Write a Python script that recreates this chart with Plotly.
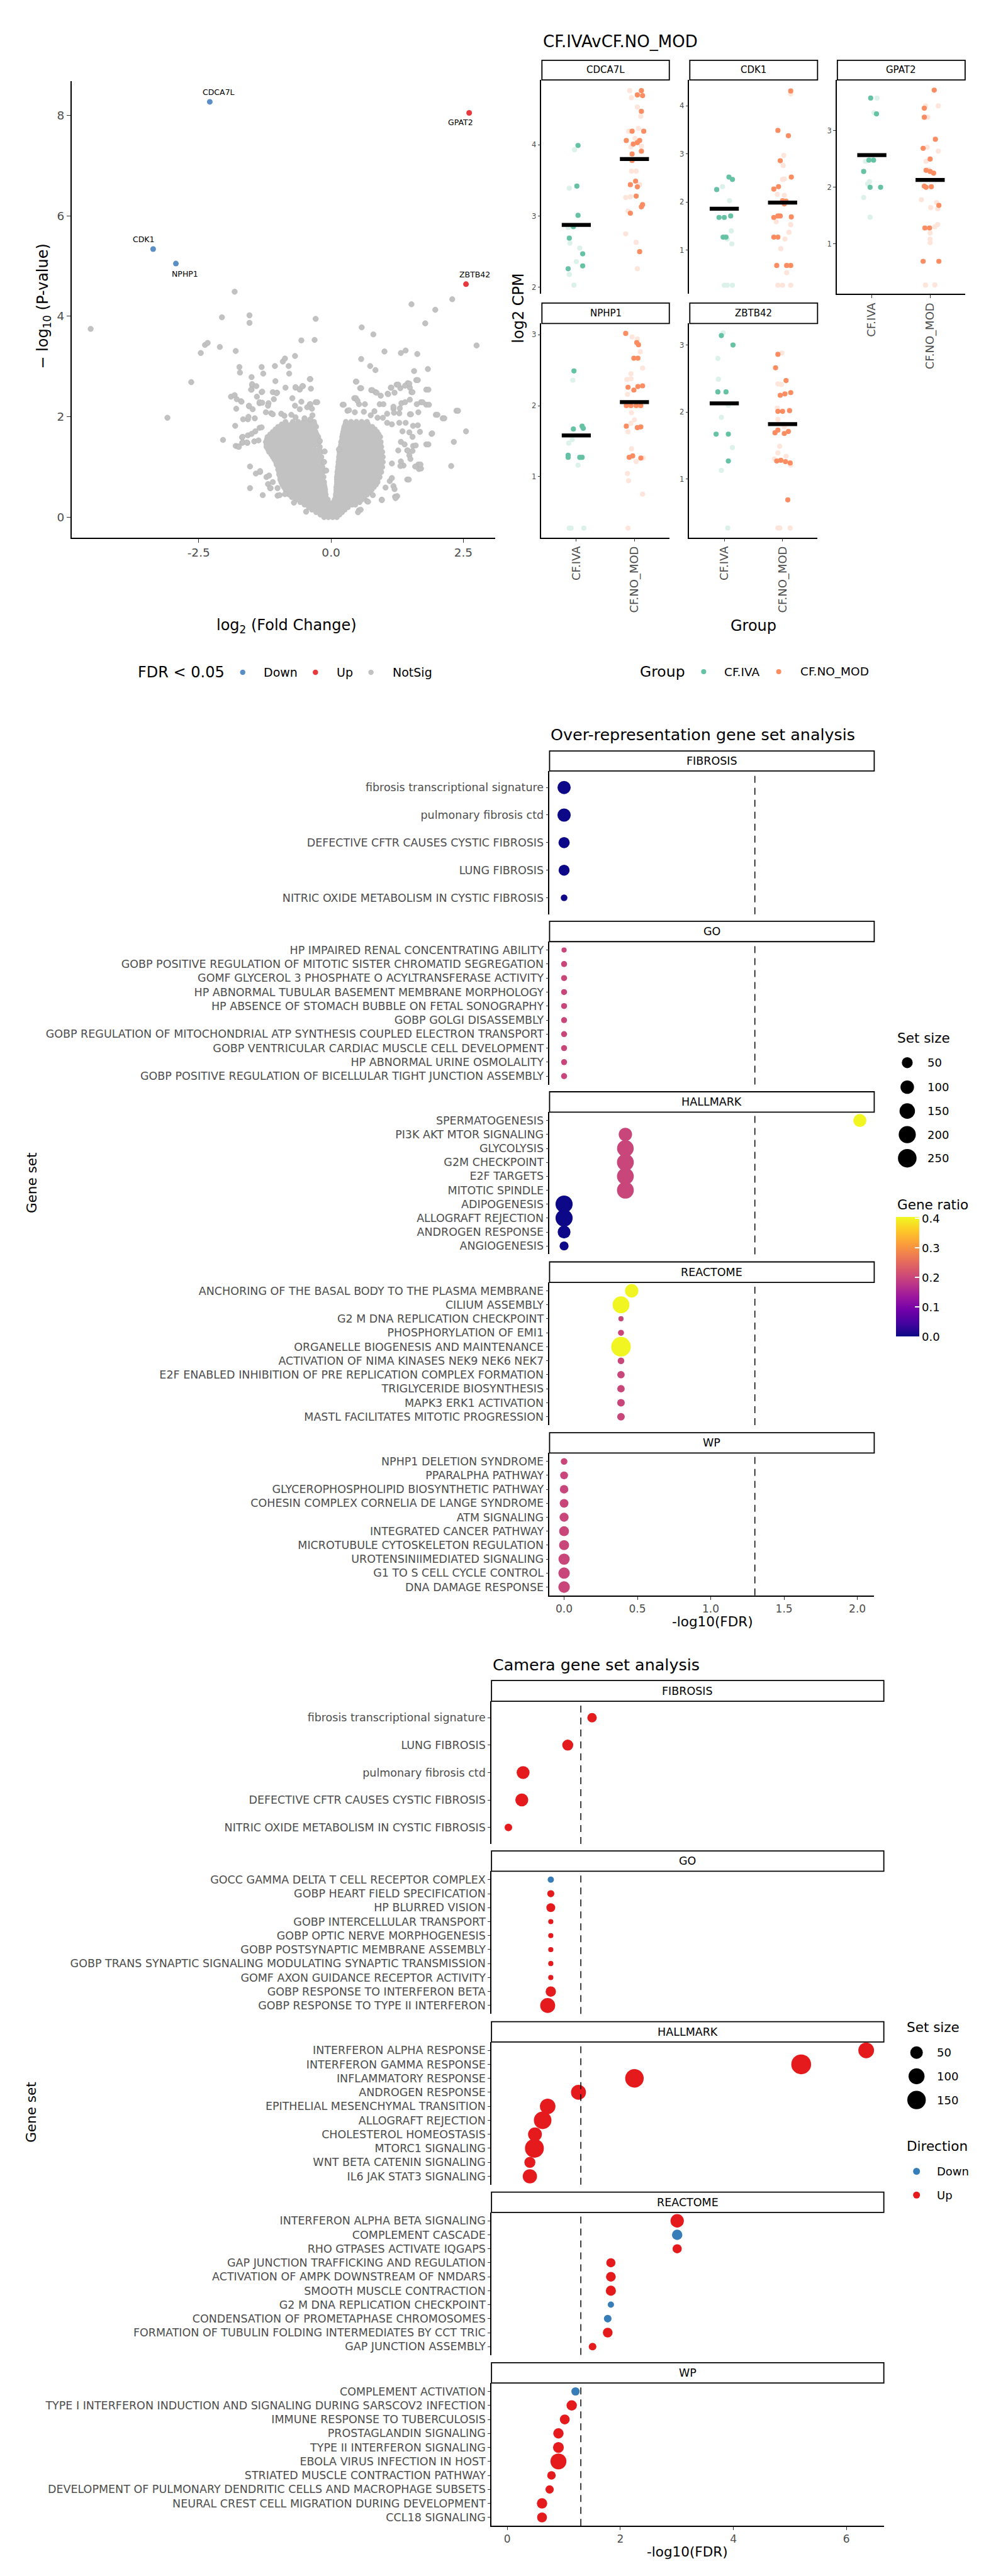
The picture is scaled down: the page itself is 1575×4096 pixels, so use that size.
import numpy as np
import plotly.graph_objects as go

# ============================ DATA ============================
# ---- Volcano: significant genes ----
sig_genes = ["CDCA7L", "GPAT2", "CDK1", "NPHP1", "ZBTB42"]
sig_logfc = [-2.29, 2.61, -3.36, -2.93, 2.55]
sig_logp = [8.27, 8.05, 5.34, 5.05, 4.64]
sig_dir = ["Down", "Up", "Down", "Down", "Up"]

# ---- Volcano: dense non-significant core, read row by row ----
ns_core_logp = [0.0, 0.1, 0.2, 0.3, 0.4, 0.5, 0.6, 0.7, 0.8, 0.9,
                1.0, 1.1, 1.2, 1.3, 1.4, 1.5, 1.6, 1.7, 1.8, 1.9]
ns_core_logfc = [
    [-0.13, -0.05, 0.03, 0.11],
    [-0.28, -0.19, -0.10, -0.02, 0.06, 0.14, 0.21],
    [-0.42, -0.33, -0.24, -0.15, -0.06, 0.02, 0.10, 0.18, 0.26, 0.32],
    [-0.58, -0.49, -0.40, -0.31, -0.22, -0.13, -0.05, 0.05, 0.13, 0.22, 0.31, 0.40, 0.48, 0.54],
    [-0.74, -0.65, -0.56, -0.47, -0.38, -0.29, -0.20, -0.10, 0.09, 0.18, 0.27, 0.36, 0.45, 0.54, 0.63],
    [-0.84, -0.75, -0.66, -0.57, -0.48, -0.39, -0.30, -0.21, -0.11, 0.10, 0.19, 0.28, 0.37, 0.46, 0.55, 0.64, 0.73],
    [-0.89, -0.80, -0.71, -0.62, -0.53, -0.44, -0.35, -0.26, -0.18, -0.12, 0.10, 0.18, 0.27, 0.36, 0.45, 0.54, 0.63, 0.72, 0.81],
    [-0.94, -0.85, -0.76, -0.67, -0.58, -0.49, -0.40, -0.31, -0.22, -0.13, 0.11, 0.19, 0.28, 0.37, 0.46, 0.55, 0.64, 0.73, 0.82, 0.88],
    [-0.96, -0.87, -0.78, -0.69, -0.60, -0.51, -0.42, -0.33, -0.24, -0.14, 0.11, 0.20, 0.29, 0.38, 0.47, 0.56, 0.65, 0.74, 0.83, 0.92],
    [-0.98, -0.89, -0.80, -0.71, -0.62, -0.53, -0.44, -0.35, -0.26, -0.15, 0.12, 0.21, 0.30, 0.39, 0.48, 0.57, 0.66, 0.75, 0.84, 0.95],
    [-1.00, -0.91, -0.82, -0.73, -0.64, -0.55, -0.46, -0.37, -0.28, -0.16, 0.13, 0.22, 0.31, 0.40, 0.49, 0.58, 0.67, 0.76, 0.85, 0.97],
    [-1.04, -0.95, -0.86, -0.77, -0.68, -0.59, -0.50, -0.41, -0.32, -0.24, -0.17, 0.14, 0.23, 0.32, 0.41, 0.50, 0.59, 0.68, 0.77, 0.86, 0.98],
    [-1.10, -1.01, -0.92, -0.83, -0.74, -0.65, -0.56, -0.47, -0.38, -0.29, -0.18, 0.15, 0.24, 0.33, 0.42, 0.51, 0.60, 0.69, 0.78, 0.87, 0.98],
    [-1.17, -1.08, -0.99, -0.90, -0.81, -0.72, -0.63, -0.54, -0.45, -0.36, -0.27, -0.19, 0.16, 0.25, 0.34, 0.43, 0.52, 0.61, 0.70, 0.79, 0.88, 0.97],
    [-1.22, -1.13, -1.04, -0.95, -0.86, -0.77, -0.68, -0.59, -0.50, -0.41, -0.32, -0.21, 0.18, 0.27, 0.36, 0.45, 0.54, 0.63, 0.72, 0.81, 0.90, 0.95],
    [-1.23, -1.14, -1.05, -0.96, -0.87, -0.78, -0.69, -0.60, -0.51, -0.42, -0.33, -0.22, 0.19, 0.28, 0.37, 0.46, 0.55, 0.64, 0.73, 0.82, 0.94],
    [-1.20, -1.11, -1.02, -0.93, -0.84, -0.75, -0.66, -0.57, -0.48, -0.39, -0.30, -0.24, 0.21, 0.30, 0.39, 0.48, 0.57, 0.66, 0.75, 0.84, 0.93],
    [-1.10, -1.01, -0.92, -0.83, -0.74, -0.65, -0.56, -0.47, -0.38, -0.29, 0.23, 0.32, 0.41, 0.50, 0.59, 0.68, 0.77, 0.87],
    [-1.00, -0.91, -0.82, -0.73, -0.64, -0.55, -0.46, -0.37, -0.28, 0.25, 0.34, 0.43, 0.52, 0.61, 0.70, 0.78],
    [-0.86, -0.72, -0.62, -0.52, -0.42, -0.32, 0.28, 0.38, 0.48, 0.58, 0.68],
]
# offset rows read between the rows above (fills the dense core)
ns_core2_logp = [0.05, 0.15, 0.25, 0.35, 0.45, 0.55, 0.65, 0.75, 0.85, 0.95,
                 1.05, 1.15, 1.25, 1.35, 1.45, 1.55, 1.65, 1.75, 1.85]
ns_core2_logfc = [
    [-0.20, -0.10, -0.01, 0.07, 0.16],
    [-0.36, -0.27, -0.18, -0.09, 0.00, 0.09, 0.17, 0.26],
    [-0.50, -0.41, -0.32, -0.23, -0.14, -0.05, 0.05, 0.14, 0.23, 0.32, 0.40, 0.46],
    [-0.66, -0.57, -0.48, -0.39, -0.30, -0.21, -0.12, -0.06, 0.07, 0.14, 0.23, 0.32, 0.41, 0.50, 0.58],
    [-0.79, -0.70, -0.61, -0.52, -0.43, -0.34, -0.25, -0.16, -0.10, 0.09, 0.14, 0.23, 0.32, 0.41, 0.50, 0.59, 0.68],
    [-0.86, -0.79, -0.70, -0.61, -0.52, -0.43, -0.34, -0.25, -0.16, -0.11, 0.10, 0.14, 0.23, 0.32, 0.41, 0.50, 0.59, 0.68, 0.77],
    [-0.92, -0.84, -0.75, -0.66, -0.57, -0.48, -0.39, -0.30, -0.21, -0.13, 0.11, 0.15, 0.24, 0.33, 0.42, 0.51, 0.60, 0.69, 0.78, 0.85],
    [-0.96, -0.89, -0.80, -0.71, -0.62, -0.53, -0.44, -0.35, -0.26, -0.17, 0.11, 0.16, 0.25, 0.34, 0.43, 0.52, 0.61, 0.70, 0.79, 0.88],
    [-0.98, -0.91, -0.82, -0.73, -0.64, -0.55, -0.46, -0.37, -0.28, -0.19, 0.12, 0.17, 0.26, 0.35, 0.44, 0.53, 0.62, 0.71, 0.80, 0.90],
    [-1.00, -0.93, -0.84, -0.75, -0.66, -0.57, -0.48, -0.39, -0.30, -0.21, 0.13, 0.18, 0.27, 0.36, 0.45, 0.54, 0.63, 0.72, 0.81, 0.92],
    [-1.03, -0.96, -0.87, -0.78, -0.69, -0.60, -0.51, -0.42, -0.33, -0.22, 0.14, 0.19, 0.28, 0.37, 0.46, 0.55, 0.64, 0.73, 0.82, 0.93],
    [-1.07, -0.99, -0.90, -0.81, -0.72, -0.63, -0.54, -0.45, -0.36, -0.27, -0.19, 0.15, 0.20, 0.29, 0.38, 0.47, 0.56, 0.65, 0.74, 0.83, 0.94],
    [-1.13, -1.05, -0.96, -0.87, -0.78, -0.69, -0.60, -0.51, -0.42, -0.33, -0.24, 0.16, 0.21, 0.30, 0.39, 0.48, 0.57, 0.66, 0.75, 0.84, 0.93],
    [-1.19, -1.12, -1.03, -0.94, -0.85, -0.76, -0.67, -0.58, -0.49, -0.40, -0.31, -0.22, 0.18, 0.23, 0.32, 0.41, 0.50, 0.59, 0.68, 0.77, 0.86, 0.93],
    [-1.22, -1.17, -1.08, -0.99, -0.90, -0.81, -0.72, -0.63, -0.54, -0.45, -0.36, -0.27, 0.19, 0.24, 0.33, 0.42, 0.51, 0.60, 0.69, 0.78, 0.87, 0.93],
    [-1.21, -1.15, -1.06, -0.97, -0.88, -0.79, -0.70, -0.61, -0.52, -0.43, -0.34, -0.27, 0.21, 0.26, 0.35, 0.44, 0.53, 0.62, 0.71, 0.80, 0.90],
    [-1.15, -1.06, -0.97, -0.88, -0.79, -0.70, -0.61, -0.52, -0.43, -0.34, -0.27, 0.22, 0.28, 0.37, 0.46, 0.55, 0.64, 0.73, 0.82, 0.90],
    [-1.05, -0.96, -0.87, -0.78, -0.69, -0.60, -0.51, -0.42, -0.33, 0.24, 0.30, 0.39, 0.48, 0.57, 0.66, 0.75, 0.83],
    [-0.93, -0.84, -0.75, -0.66, -0.57, -0.48, -0.39, -0.31, 0.27, 0.33, 0.42, 0.51, 0.60, 0.70],
]

# ---- Volcano: scattered non-significant genes (logFC, -log10 p) ----
ns_scatter = [
    (-4.54, 3.75), (-3.09, 1.98), (-2.64, 2.69), (-2.46, 3.27), (-2.38, 3.43), (-2.33, 3.47), (-2.10, 3.39),
    (-2.06, 3.98), (-2.04, 1.54), (-1.82, 4.49), (-1.80, 3.31), (-1.73, 2.99), (-1.72, 2.88), (-1.89, 2.40),
    (-1.82, 2.43), (-1.78, 2.35), (-1.70, 2.31), (-1.79, 2.16), (-1.81, 1.82), (-1.80, 1.42), (-1.76, 1.41),
    (-1.68, 1.48), (-1.68, 1.59), (-1.54, 4.02), (-1.54, 3.87), (-1.50, 2.79), (-1.49, 2.63), (-1.50, 2.54),
    (-1.55, 2.21), (-1.57, 1.95), (-1.53, 1.01), (-1.53, 0.58), (-1.29, 0.44), (-1.31, 2.99), (-1.28, 2.86),
    (-1.06, 3.01), (-1.05, 2.71), (-0.91, 3.10), (-0.87, 3.16), (-0.80, 3.01), (-0.79, 2.86), (-0.68, 3.21),
    (-0.56, 3.52), (-0.31, 3.53), (-0.29, 3.95), (-0.39, 2.75), (-0.38, 2.56), (0.58, 3.78), (0.80, 3.64),
    (0.57, 3.15), (0.74, 3.01), (0.84, 2.93), (0.47, 2.70), (0.55, 2.57), (1.01, 3.30), (1.32, 3.27),
    (1.41, 3.32), (1.63, 3.25), (1.52, 4.24), (1.78, 3.86), (1.97, 4.13), (2.29, 4.34), (2.75, 3.42),
    (1.83, 2.95), (1.57, 2.91), (1.61, 2.73), (1.80, 2.54), (1.80, 2.24), (1.70, 2.29), (1.98, 2.04),
    (2.11, 1.97), (2.37, 2.12), (1.90, 1.66), (2.55, 1.71), (2.32, 1.50), (1.80, 1.45), (2.27, 1.02),
    (1.65, 1.05), (1.66, 0.96), (1.44, 0.75), (1.55, 1.42), (1.24, 2.64), (1.31, 2.57), (1.45, 2.67),
    (1.49, 2.58), (1.52, 2.49), (1.07, 2.46), (1.13, 2.58), (1.20, 2.48), (0.94, 2.42), (0.76, 2.53),
    (0.84, 2.49), (0.44, 2.37), (0.53, 2.25), (0.22, 2.24), (0.31, 2.12), (0.62, 2.10), (0.75, 2.03),
    (1.49, 2.05), (1.65, 2.09), (1.18, 2.16), (1.06, 2.06), (-1.02, 2.48), (-1.31, 2.49), (-1.35, 2.27),
    (-1.18, 2.27), (-1.08, 2.35), (-0.86, 2.58), (-0.67, 2.58), (-0.59, 2.54), (-0.53, 2.61), (-0.40, 2.25),
    (-0.29, 2.29), (-1.43, 1.71), (-1.58, 1.48), (-1.42, 0.87), (-1.34, 0.90), (-1.19, 0.66), (-1.15, 0.58),
    (-1.01, 0.43), (-0.70, 0.29), (-0.47, 0.11), (0.53, 0.14), (0.68, 0.32), (0.96, 0.35), (1.21, 0.41),
    (1.18, 0.62), (1.37, 1.03), (1.15, 1.07), (1.27, 1.33), (1.44, 1.33),
    (-1.49, 2.65), (-1.41, 2.61), (-1.51, 2.54), (-1.30, 2.50), (-1.10, 2.49), (-1.03, 2.47), (-1.40, 2.40),
    (-1.35, 2.29), (-1.30, 2.28), (-1.69, 2.30), (-1.55, 2.22), (-1.48, 2.15), (-1.19, 2.22), (-1.23, 2.09),
    (-1.13, 2.07), (-1.10, 2.05), (-0.94, 2.06), (-0.73, 2.37), (-0.67, 2.59), (-0.59, 2.55), (-0.54, 2.61),
    (-0.40, 2.75), (-0.56, 2.30), (-0.68, 2.22), (-0.59, 2.15), (-0.39, 2.25), (-0.36, 2.16),
    (-0.26, 2.29), (-0.45, 2.19), (-0.88, 2.02), (-0.75, 2.04), (-0.67, 1.99), (-0.50, 1.97), (-0.35, 2.03),
    (-0.39, 1.95), (-1.66, 1.95), (-1.56, 2.00), (-1.44, 1.97), (-1.35, 1.78), (-1.31, 1.79), (-1.67, 1.60),
    (-1.57, 1.63), (-1.50, 1.66), (-1.66, 1.49), (-1.59, 1.49), (-1.74, 1.40), (-1.45, 1.51), (-1.37, 1.53),
    (-1.34, 0.92), (-1.22, 0.80), (-1.17, 0.83), (-1.10, 0.70), (-1.14, 0.58), (-1.01, 0.58), (-0.97, 0.44),
    (-0.87, 0.46), (-0.13, 1.10), (-0.09, 0.93), (-0.21, 1.52), (-0.12, 1.31), (0.15, 1.35), (0.24, 2.24),
    (0.48, 2.70), (0.57, 2.57), (0.47, 2.37), (0.50, 2.32), (0.64, 2.25), (0.34, 2.13), (0.45, 2.09),
    (0.82, 2.11), (0.78, 2.53), (0.86, 2.48), (1.08, 2.45), (1.14, 2.58), (1.27, 2.64), (1.40, 2.62),
    (1.48, 2.66), (1.54, 2.49), (1.64, 2.73), (1.84, 2.54), (0.92, 2.25), (0.99, 2.25), (1.18, 2.20),
    (1.30, 2.17), (1.33, 2.27), (1.40, 2.29), (1.49, 2.34), (1.62, 2.25), (1.73, 2.29), (1.85, 2.24),
    (1.19, 2.08), (1.29, 2.07), (1.51, 2.05), (2.01, 2.04), (2.14, 1.97), (2.40, 2.12), (0.88, 1.98),
    (0.98, 1.98), (1.06, 1.88), (1.15, 1.85), (1.29, 1.88), (1.41, 1.88), (1.55, 1.82), (1.64, 1.83),
    (1.68, 1.70), (1.91, 1.67), (1.35, 1.71), (1.48, 1.69), (1.54, 1.60), (1.84, 1.45), (1.60, 1.43),
    (1.45, 1.33), (1.54, 1.32), (1.32, 1.50), (1.39, 1.45), (1.48, 1.23), (1.50, 1.16), (1.59, 1.01),
    (1.70, 0.97), (1.69, 1.05), (1.32, 1.11), (1.31, 1.02), (1.47, 0.75), (1.11, 0.72), (1.15, 0.78),
    (1.03, 0.59), (1.20, 0.56), (1.25, 0.42), (1.22, 0.38), (0.96, 0.34), (0.79, 0.44), (0.70, 0.31),
    (0.56, 0.15), (0.51, 0.10),
]
ns_logfc = [p[0] for p in ns_scatter]
ns_logp = [p[1] for p in ns_scatter]

# ---- Strip plots: (jitter offset, log2 CPM) ----
strip_groups = ["CF.IVA", "CF.NO_MOD"]
strip_genes = ["CDCA7L", "CDK1", "GPAT2", "NPHP1", "ZBTB42"]
strip_mean_iva = [2.875, 1.86, 2.57, 1.58, 2.13]
strip_mean_nomod = [3.80, 1.99, 2.13, 2.05, 1.82]

cdca7l_iva_solid = [(0.03, 3.99), (0.01, 3.42), (0.03, 3.01), (-0.05, 2.85), (-0.12, 2.69), (0.11, 2.47), (0.11, 2.30), (-0.14, 2.26)]
cdca7l_iva_faded = [(-0.03, 3.93), (-0.12, 3.39), (-0.14, 2.84), (-0.11, 2.62), (0.06, 2.55), (0.00, 2.36), (-0.12, 2.18), (-0.04, 2.03)]
cdca7l_nomod_solid = [(0.12, 4.76), (0.05, 4.70), (0.14, 4.69), (0.12, 4.47), (-0.04, 4.19), (0.16, 4.19), (-0.14, 4.06),
                      (-0.02, 4.01), (0.05, 4.03), (0.09, 4.06), (-0.04, 3.87), (0.12, 3.91), (-0.04, 3.78), (0.02, 3.49),
                      (-0.07, 3.44), (0.05, 3.41), (0.03, 3.28), (0.14, 3.16), (0.12, 3.13), (-0.07, 3.04), (0.09, 2.50)]
cdca7l_nomod_faded = [(-0.08, 4.76), (-0.05, 4.66), (0.05, 4.53), (0.11, 4.40), (-0.10, 4.19), (0.07, 4.23), (0.01, 4.09),
                      (0.12, 3.98), (-0.06, 3.97), (0.03, 3.63), (-0.05, 3.63), (0.09, 3.44), (-0.15, 3.26), (-0.07, 3.27),
                      (-0.11, 3.07), (-0.15, 2.75), (0.03, 2.63), (0.05, 2.26)]

cdk1_iva_solid = [(0.08, 2.52), (0.14, 2.47), (-0.13, 2.26), (-0.09, 1.68), (0.00, 1.68), (0.11, 1.71), (-0.02, 1.27), (0.03, 1.27)]
cdk1_iva_faded = [(-0.03, 2.32), (0.09, 2.03), (0.12, 1.40), (0.05, 1.23), (0.13, 1.13), (0.00, 0.27), (0.05, 0.27), (0.14, 0.27)]
cdk1_nomod_solid = [(0.14, 4.31), (-0.08, 3.49), (0.10, 3.38), (-0.04, 2.86), (0.15, 2.52), (-0.07, 2.32), (-0.15, 2.27),
                    (0.00, 2.03), (0.03, 1.96), (0.06, 2.02), (-0.15, 1.68), (-0.08, 1.71), (-0.04, 1.71), (0.15, 1.69),
                    (-0.15, 1.27), (-0.08, 1.27), (-0.10, 0.68), (0.07, 0.68), (0.14, 0.68)]
cdk1_nomod_faded = [(0.14, 4.25), (0.02, 2.97), (0.01, 2.76), (0.00, 2.47), (0.03, 2.48), (-0.09, 2.16), (0.03, 2.14),
                    (-0.11, 1.59), (0.14, 1.53), (0.11, 1.37), (0.04, 1.23), (-0.03, 1.03), (0.07, 0.53), (-0.08, 0.27),
                    (0.00, 0.27), (0.14, 0.27)]

gpat2_iva_solid = [(-0.02, 3.58), (0.08, 3.30), (-0.14, 2.28), (-0.05, 2.48), (0.03, 2.48), (-0.03, 2.00), (0.15, 2.00)]
gpat2_iva_faded = [(0.09, 3.58), (0.04, 3.32), (-0.11, 2.46), (-0.04, 2.10), (-0.07, 2.06), (-0.14, 1.82), (-0.03, 1.47), (0.00, 2.50)]
gpat2_nomod_solid = [(0.07, 3.72), (-0.10, 3.40), (-0.10, 3.24), (0.09, 2.85), (-0.12, 2.69), (0.00, 2.50), (-0.07, 2.30),
                     (0.00, 2.28), (0.06, 2.25), (-0.10, 2.02), (-0.07, 2.00), (0.02, 2.01), (0.15, 1.68), (-0.09, 1.28),
                     (-0.01, 1.28), (-0.12, 0.69), (0.15, 0.69)]
gpat2_nomod_faded = [(-0.08, 3.44), (-0.04, 3.24), (0.14, 3.44), (-0.05, 2.71), (0.14, 2.64), (-0.07, 2.46), (-0.03, 2.31),
                     (-0.15, 1.78), (0.11, 1.73), (0.01, 1.64), (0.13, 1.62), (0.13, 1.34), (0.08, 1.30), (0.00, 1.19),
                     (0.00, 1.08), (0.00, 1.02), (-0.08, 0.27), (0.08, 0.27)]

nphp1_iva_solid = [(-0.04, 2.49), (-0.05, 1.67), (0.10, 1.71), (0.12, 1.68), (-0.14, 1.30), (-0.14, 1.27), (0.06, 1.27), (0.10, 1.27)]
nphp1_iva_faded = [(-0.06, 2.36), (-0.07, 1.52), (-0.13, 1.47), (0.07, 1.26), (0.03, 1.16), (-0.12, 0.27), (-0.09, 0.27), (0.13, 0.27)]
nphp1_nomod_solid = [(-0.15, 3.02), (0.04, 2.89), (0.07, 2.86), (-0.01, 2.67), (0.06, 2.67), (-0.11, 2.26), (-0.01, 2.22),
                     (0.06, 2.27), (0.14, 2.28), (-0.14, 2.00), (-0.06, 2.00), (0.03, 2.00), (0.11, 2.00), (-0.14, 1.71),
                     (0.05, 1.69), (0.11, 1.70), (-0.09, 1.27), (-0.03, 1.29), (0.11, 1.26)]
nphp1_nomod_faded = [(-0.04, 2.97), (0.05, 2.94), (0.10, 2.76), (0.14, 2.53), (-0.06, 2.45), (-0.13, 2.37), (-0.06, 2.38),
                     (-0.12, 2.16), (-0.05, 1.90), (0.00, 1.80), (-0.06, 1.75), (-0.11, 1.63), (-0.05, 1.39), (0.03, 1.21),
                     (0.15, 1.26), (-0.12, 1.04), (-0.10, 0.94), (0.14, 0.75), (-0.11, 0.27)]

zbtb42_iva_solid = [(-0.05, 3.14), (0.15, 3.00), (-0.11, 2.30), (0.03, 2.30), (-0.14, 1.67), (0.07, 1.67), (0.07, 1.27)]
zbtb42_iva_faded = [(-0.02, 3.18), (-0.11, 2.80), (-0.10, 2.49), (0.07, 2.10), (-0.05, 1.92), (0.14, 1.47), (-0.05, 1.13), (0.06, 0.27)]
zbtb42_nomod_solid = [(-0.08, 2.86), (-0.12, 2.66), (0.06, 2.47), (-0.04, 2.25), (0.04, 2.27), (0.14, 2.29), (-0.08, 2.01),
                      (0.00, 2.01), (0.12, 2.02), (-0.08, 1.73), (-0.13, 1.69), (0.03, 1.68), (0.10, 1.71), (-0.10, 1.27),
                      (-0.03, 1.28), (0.05, 1.26), (0.13, 1.24), (0.09, 0.69)]
zbtb42_nomod_faded = [(-0.01, 2.88), (-0.08, 2.42), (-0.02, 2.41), (-0.09, 2.06), (0.12, 2.03), (-0.08, 1.89), (0.03, 1.78),
                      (-0.05, 1.49), (-0.08, 1.39), (0.06, 1.34), (-0.14, 1.30), (0.14, 1.21), (-0.08, 0.27), (-0.05, 0.27),
                      (0.13, 0.27)]

# ---- Over-representation analysis (x = -log10 FDR) ----
ora_fibrosis_sets = ["fibrosis transcriptional signature", "pulmonary fibrosis ctd",
                     "DEFECTIVE CFTR CAUSES CYSTIC FIBROSIS", "LUNG FIBROSIS",
                     "NITRIC OXIDE METABOLISM IN CYSTIC FIBROSIS"]
ora_fibrosis_fdr = [0.0, 0.0, 0.0, 0.0, 0.0]
ora_fibrosis_ratio = [0.0, 0.0, 0.0, 0.0, 0.0]
ora_fibrosis_size = [93, 95, 55, 52, 8]

ora_go_sets = ["HP IMPAIRED RENAL CONCENTRATING ABILITY",
               "GOBP POSITIVE REGULATION OF MITOTIC SISTER CHROMATID SEGREGATION",
               "GOMF GLYCEROL 3 PHOSPHATE O ACYLTRANSFERASE ACTIVITY",
               "HP ABNORMAL TUBULAR BASEMENT MEMBRANE MORPHOLOGY",
               "HP ABSENCE OF STOMACH BUBBLE ON FETAL SONOGRAPHY",
               "GOBP GOLGI DISASSEMBLY",
               "GOBP REGULATION OF MITOCHONDRIAL ATP SYNTHESIS COUPLED ELECTRON TRANSPORT",
               "GOBP VENTRICULAR CARDIAC MUSCLE CELL DEVELOPMENT",
               "HP ABNORMAL URINE OSMOLALITY",
               "GOBP POSITIVE REGULATION OF BICELLULAR TIGHT JUNCTION ASSEMBLY"]
ora_go_fdr = [0.0, 0.0, 0.0, 0.0, 0.0, 0.0, 0.0, 0.0, 0.0, 0.0]
ora_go_ratio = [0.2, 0.2, 0.2, 0.2, 0.2, 0.2, 0.2, 0.2, 0.2, 0.2]
ora_go_size = [5, 6, 6, 6, 6, 6, 6, 6, 6, 6]

ora_hallmark_sets = ["SPERMATOGENESIS", "PI3K AKT MTOR SIGNALING", "GLYCOLYSIS", "G2M CHECKPOINT", "E2F TARGETS",
                     "MITOTIC SPINDLE", "ADIPOGENESIS", "ALLOGRAFT REJECTION", "ANDROGEN RESPONSE", "ANGIOGENESIS"]
ora_hallmark_fdr = [2.017, 0.418, 0.418, 0.418, 0.418, 0.418, 0.0, 0.0, 0.0, 0.0]
ora_hallmark_ratio = [0.4, 0.2, 0.2, 0.2, 0.2, 0.2, 0.0, 0.0, 0.0, 0.0]
ora_hallmark_size = [90, 97, 185, 190, 190, 190, 200, 200, 85, 25]

ora_reactome_sets = ["ANCHORING OF THE BASAL BODY TO THE PLASMA MEMBRANE", "CILIUM ASSEMBLY",
                     "G2 M DNA REPLICATION CHECKPOINT", "PHOSPHORYLATION OF EMI1",
                     "ORGANELLE BIOGENESIS AND MAINTENANCE", "ACTIVATION OF NIMA KINASES NEK9 NEK6 NEK7",
                     "E2F ENABLED INHIBITION OF PRE REPLICATION COMPLEX FORMATION", "TRIGLYCERIDE BIOSYNTHESIS",
                     "MAPK3 ERK1 ACTIVATION", "MASTL FACILITATES MITOTIC PROGRESSION"]
ora_reactome_fdr = [0.461, 0.388, 0.388, 0.388, 0.388, 0.388, 0.388, 0.388, 0.388, 0.388]
ora_reactome_ratio = [0.4, 0.4, 0.2, 0.2, 0.4, 0.2, 0.2, 0.2, 0.2, 0.2]
ora_reactome_size = [97, 190, 5, 6, 290, 8, 12, 12, 13, 13]

ora_wp_sets = ["NPHP1 DELETION SYNDROME", "PPARALPHA PATHWAY", "GLYCEROPHOSPHOLIPID BIOSYNTHETIC PATHWAY",
               "COHESIN COMPLEX CORNELIA DE LANGE SYNDROME", "ATM SIGNALING", "INTEGRATED CANCER PATHWAY",
               "MICROTUBULE CYTOSKELETON REGULATION", "UROTENSINIIMEDIATED SIGNALING",
               "G1 TO S CELL CYCLE CONTROL", "DNA DAMAGE RESPONSE"]
ora_wp_fdr = [0.0, 0.0, 0.0, 0.0, 0.0, 0.0, 0.0, 0.0, 0.0, 0.0]
ora_wp_ratio = [0.2, 0.2, 0.2, 0.2, 0.2, 0.2, 0.2, 0.2, 0.2, 0.2]
ora_wp_size = [8, 15, 20, 22, 26, 35, 37, 55, 58, 60]

# ---- Camera gene set analysis (x = -log10 FDR) ----
cam_fibrosis_sets = ["fibrosis transcriptional signature", "LUNG FIBROSIS", "pulmonary fibrosis ctd",
                     "DEFECTIVE CFTR CAUSES CYSTIC FIBROSIS", "NITRIC OXIDE METABOLISM IN CYSTIC FIBROSIS"]
cam_fibrosis_fdr = [1.50, 1.07, 0.28, 0.257, 0.02]
cam_fibrosis_dir = ["Up", "Up", "Up", "Up", "Up"]
cam_fibrosis_size = [20, 33, 54, 54, 10]

cam_go_sets = ["GOCC GAMMA DELTA T CELL RECEPTOR COMPLEX", "GOBP HEART FIELD SPECIFICATION", "HP BLURRED VISION",
               "GOBP INTERCELLULAR TRANSPORT", "GOBP OPTIC NERVE MORPHOGENESIS", "GOBP POSTSYNAPTIC MEMBRANE ASSEMBLY",
               "GOBP TRANS SYNAPTIC SIGNALING MODULATING SYNAPTIC TRANSMISSION", "GOMF AXON GUIDANCE RECEPTOR ACTIVITY",
               "GOBP RESPONSE TO INTERFERON BETA", "GOBP RESPONSE TO TYPE II INTERFERON"]
cam_go_fdr = [0.77, 0.77, 0.77, 0.77, 0.77, 0.77, 0.77, 0.77, 0.77, 0.715]
cam_go_dir = ["Down", "Up", "Up", "Up", "Up", "Up", "Up", "Up", "Up", "Up"]
cam_go_size = [6, 8, 16, 5, 5, 5, 5, 5, 27, 83]

cam_hallmark_sets = ["INTERFERON ALPHA RESPONSE", "INTERFERON GAMMA RESPONSE", "INFLAMMATORY RESPONSE",
                     "ANDROGEN RESPONSE", "EPITHELIAL MESENCHYMAL TRANSITION", "ALLOGRAFT REJECTION",
                     "CHOLESTEROL HOMEOSTASIS", "MTORC1 SIGNALING", "WNT BETA CATENIN SIGNALING",
                     "IL6 JAK STAT3 SIGNALING"]
cam_hallmark_fdr = [6.35, 5.20, 2.25, 1.26, 0.715, 0.626, 0.49, 0.48, 0.40, 0.40]
cam_hallmark_dir = ["Up", "Up", "Up", "Up", "Up", "Up", "Up", "Up", "Up", "Up"]
cam_hallmark_size = [95, 180, 150, 83, 92, 130, 66, 158, 33, 73]

cam_reactome_sets = ["INTERFERON ALPHA BETA SIGNALING", "COMPLEMENT CASCADE", "RHO GTPASES ACTIVATE IQGAPS",
                     "GAP JUNCTION TRAFFICKING AND REGULATION", "ACTIVATION OF AMPK DOWNSTREAM OF NMDARS",
                     "SMOOTH MUSCLE CONTRACTION", "G2 M DNA REPLICATION CHECKPOINT",
                     "CONDENSATION OF PROMETAPHASE CHROMOSOMES",
                     "FORMATION OF TUBULIN FOLDING INTERMEDIATES BY CCT TRIC", "GAP JUNCTION ASSEMBLY"]
cam_reactome_fdr = [3.006, 3.006, 3.006, 1.833, 1.833, 1.833, 1.833, 1.777, 1.777, 1.509]
cam_reactome_dir = ["Up", "Down", "Up", "Up", "Up", "Up", "Down", "Down", "Up", "Up"]
cam_reactome_size = [60, 27, 18, 18, 22, 25, 6, 10, 22, 10]

cam_wp_sets = ["COMPLEMENT ACTIVATION", "TYPE I INTERFERON INDUCTION AND SIGNALING DURING SARSCOV2 INFECTION",
               "IMMUNE RESPONSE TO TUBERCULOSIS", "PROSTAGLANDIN SIGNALING", "TYPE II INTERFERON SIGNALING",
               "EBOLA VIRUS INFECTION IN HOST", "STRIATED MUSCLE CONTRACTION PATHWAY",
               "DEVELOPMENT OF PULMONARY DENDRITIC CELLS AND MACROPHAGE SUBSETS",
               "NEURAL CREST CELL MIGRATION DURING DEVELOPMENT", "CCL18 SIGNALING"]
cam_wp_fdr = [1.207, 1.14, 1.017, 0.905, 0.905, 0.905, 0.782, 0.749, 0.615, 0.615]
cam_wp_dir = ["Down", "Up", "Up", "Up", "Up", "Up", "Up", "Up", "Up", "Up"]
cam_wp_size = [13, 27, 23, 27, 31, 100, 14, 13, 27, 23]

size_breaks_ora = [50, 100, 150, 200, 250]
size_breaks_cam = [50, 100, 150]
ratio_ticks = [0.0, 0.1, 0.2, 0.3, 0.4]
FDR_CUTOFF = 0.05

# ============================ STYLE / LAYOUT HELPERS ============================
FW, FH, S = 1920.0, 4992.0, 0.82
FONT = "DejaVu Sans"
GREY30 = "#4D4D4D"
COL_DOWN, COL_UP, COL_NS = "#5A8FC6", "#E8393E", "#C2C2C2"
COL_IVA, COL_NOMOD = "#66C2A5", "#FC8D62"
CAM_UP, CAM_DOWN = "#E41A1C", "#377EB8"


def px(x):
    return x / FW


def py(y):
    return 1.0 - y / FH


def xdom(a, b):
    return [a / FW, b / FW]


def ydom(top, bottom):
    return [1.0 - bottom / FH, 1.0 - top / FH]


def ora_diam(s):
    return (10 + 26.5 * np.sqrt(max(s - 5, 0) / 255.0)) * S


def cam_diam(s):
    return (10 + 30.0 * np.sqrt(max(s - 5, 0) / 195.0)) * S


def base_axis(domain, rng, anchor):
    return dict(domain=domain, range=rng, anchor=anchor, showgrid=False, zeroline=False,
                showline=False, ticks="", showticklabels=False, fixedrange=True)


def lined(d, ticklen, fsize):
    d.update(showline=True, linecolor="black", linewidth=1.6, ticks="outside", ticklen=ticklen,
             tickwidth=1.3, tickcolor="#333333", showticklabels=True,
             tickfont=dict(family=FONT, size=fsize, color=GREY30))
    return d


def aname(i, k):
    return f"{k}axis" if i == 1 else f"{k}axis{i}"


def aref(i, k):
    return k if i == 1 else f"{k}{i}"


fig = go.Figure()
layout = dict(width=1575, height=4096, margin=dict(l=0, r=0, t=0, b=0),
              paper_bgcolor="white", plot_bgcolor="rgba(0,0,0,0)", showlegend=False,
              hovermode=False, font=dict(family=FONT, color="black"))
annotations = []
shapes = []


def text(x, y, s, size, color="black", xanchor="left", angle=0):
    annotations.append(dict(x=px(x), y=py(y), xref="paper", yref="paper", text=s, showarrow=False,
                            xanchor=xanchor, yanchor="middle", textangle=angle,
                            font=dict(family=FONT, size=size, color=color)))


def strip_box(x0, x1, y0, y1, label, size):
    shapes.append(dict(type="rect", xref="paper", yref="paper", x0=px(x0), x1=px(x1), y0=py(y1), y1=py(y0),
                       line=dict(color="black", width=1.8), fillcolor="white", layer="below"))
    text((x0 + x1) / 2, (y0 + y1) / 2, label, size, xanchor="center")


# ============================ VOLCANO ============================
xa = lined(base_axis(xdom(129, 950), [-4.90, 3.105], "y"), 6, 18.5)
xa.update(tickvals=[-2.5, 0, 2.5], ticktext=["-2.5", "0.0", "2.5"])
ya = lined(base_axis(ydom(147.7, 1032.5), [-0.41, 8.68], "x"), 6, 18.5)
ya.update(tickvals=[0, 2, 4, 6, 8], ticktext=["0", "2", "4", "6", "8"])
layout["xaxis"], layout["yaxis"] = xa, ya

core_x = [v for row in ns_core_logfc for v in row] + [v for row in ns_core2_logfc for v in row]
core_y = ([lp for lp, row in zip(ns_core_logp, ns_core_logfc) for _ in row] +
          [lp for lp, row in zip(ns_core2_logp, ns_core2_logfc) for _ in row])
fig.add_trace(go.Scatter(x=core_x, y=core_y, mode="markers", xaxis="x", yaxis="y", hoverinfo="skip",
                         marker=dict(size=9.0, color=COL_NS, opacity=1, line=dict(width=0))))
fig.add_trace(go.Scatter(x=ns_logfc, y=ns_logp, mode="markers", xaxis="x", yaxis="y", hoverinfo="skip",
                         marker=dict(size=8.6, color=COL_NS, opacity=1, line=dict(color="#B6B6B6", width=0.7))))
fig.add_trace(go.Scatter(x=sig_logfc, y=sig_logp, mode="markers", xaxis="x", yaxis="y", hoverinfo="skip",
                         marker=dict(size=9.0, opacity=1, color=[COL_DOWN if d == "Down" else COL_UP for d in sig_dir],
                                     line=dict(width=0))))
label_shift = {"CDCA7L": (14, 15), "GPAT2": (-14, -15), "CDK1": (-15, 15), "NPHP1": (14, -16), "ZBTB42": (14, 15)}
for g, lx, ly in zip(sig_genes, sig_logfc, sig_logp):
    sx, sy = label_shift[g]
    annotations.append(dict(x=lx, y=ly, xref="x", yref="y", text=g, showarrow=False, xshift=sx, yshift=sy,
                            font=dict(family=FONT, size=12.5, color="black")))

text(545, 1203, "log<sub>2</sub> (Fold Change)", 24, xanchor="center")
text(75, 584, "\u2212 log<sub>10</sub> (P-value)", 24, xanchor="center", angle=-90)

# ============================ STRIP PLOTS ============================
strip_panels = [
    ("CDCA7L", (1039.2, 1287.0), (145.2, 559.8), (107.0, 145.2), [1.907, 4.91], [2, 3, 4], False,
     cdca7l_iva_faded, cdca7l_iva_solid, cdca7l_nomod_faded, cdca7l_nomod_solid),
    ("CDK1", (1325.7, 1574.2), (145.2, 559.8), (107.0, 145.2), [0.089, 4.54], [1, 2, 3, 4], False,
     cdk1_iva_faded, cdk1_iva_solid, cdk1_nomod_faded, cdk1_nomod_solid),
    ("GPAT2", (1611.6, 1860.1), (145.2, 559.8), (107.0, 145.2), [0.113, 3.90], [1, 2, 3], True,
     gpat2_iva_faded, gpat2_iva_solid, gpat2_nomod_faded, gpat2_nomod_solid),
    ("NPHP1", (1039.2, 1287.0), (617.2, 1031.7), (577.6, 617.2), [0.139, 3.16], [1, 2, 3], True,
     nphp1_iva_faded, nphp1_iva_solid, nphp1_nomod_faded, nphp1_nomod_solid),
    ("ZBTB42", (1325.7, 1574.2), (617.2, 1031.7), (577.6, 617.2), [0.13, 3.32], [1, 2, 3], True,
     zbtb42_iva_faded, zbtb42_iva_solid, zbtb42_nomod_faded, zbtb42_nomod_solid),
]
ai = 2
for k, (gene, (xl, xr), (yt, yb), (st, sb), yr, yt_vals, showx, ivf, ivs, nmf, nms) in enumerate(strip_panels):
    xa = base_axis(xdom(xl, xr), [0.4, 2.6], aref(ai, "y"))
    if showx:
        lined(xa, 5, 18)
        xa.update(tickvals=[1, 2], ticktext=strip_groups, tickangle=-90)
    ya = lined(base_axis(ydom(yt, yb), yr, aref(ai, "x")), 4, 11.5)
    ya.update(tickvals=yt_vals, ticktext=[str(v) for v in yt_vals])
    layout[aname(ai, "x")], layout[aname(ai, "y")] = xa, ya
    for pos, pts, col, op in [(1, ivf, COL_IVA, 0.22), (2, nmf, COL_NOMOD, 0.22),
                              (1, ivs, COL_IVA, 1.0), (2, nms, COL_NOMOD, 1.0)]:
        fig.add_trace(go.Scatter(x=[pos + j for j, _ in pts], y=[v for _, v in pts], mode="markers",
                                 xaxis=aref(ai, "x"), yaxis=aref(ai, "y"), hoverinfo="skip", opacity=op,
                                 marker=dict(size=8.2, color=col, opacity=1, line=dict(width=0))))
    for pos, m in [(1, strip_mean_iva[k]), (2, strip_mean_nomod[k])]:
        fig.add_trace(go.Scatter(x=[pos - 0.25, pos + 0.25], y=[m, m], mode="lines", hoverinfo="skip",
                                 xaxis=aref(ai, "x"), yaxis=aref(ai, "y"),
                                 line=dict(color="black", width=6.2)))
    strip_box(xl + 1, xr, st, sb, gene, 15)
    ai += 1

text(1040, 70.6, "CF.IVAvCF.NO_MOD", 26)
text(995, 588, "log2 CPM", 24, xanchor="center", angle=-90)
text(1450, 1203, "Group", 24, xanchor="center")

# ============================ ORA ============================
ora_panels = [
    ("FIBROSIS", (1445.5, 1484.3, 1762.0), ora_fibrosis_sets, ora_fibrosis_fdr, ora_fibrosis_ratio, ora_fibrosis_size),
    ("GO", (1775.6, 1815.0, 2092.0), ora_go_sets, ora_go_fdr, ora_go_ratio, ora_go_size),
    ("HALLMARK", (2106.0, 2145.5, 2421.0), ora_hallmark_sets, ora_hallmark_fdr, ora_hallmark_ratio, ora_hallmark_size),
    ("REACTOME", (2435.7, 2475.4, 2752.0), ora_reactome_sets, ora_reactome_fdr, ora_reactome_ratio, ora_reactome_size),
    ("WP", (2766.7, 2806.0, 3082.0), ora_wp_sets, ora_wp_fdr, ora_wp_ratio, ora_wp_size),
]
cut = -np.log10(FDR_CUTOFF)
for k, (lab, (st, pt, pb), sets, xs, ratio, size) in enumerate(ora_panels):
    n = len(sets)
    xa = base_axis(xdom(1055, 1684), [-0.099, 2.115], aref(ai, "y"))
    if k == len(ora_panels) - 1:
        lined(xa, 5, 17)
        xa.update(tickvals=[0, 0.5, 1, 1.5, 2], ticktext=["0.0", "0.5", "1.0", "1.5", "2.0"])
    ya = lined(base_axis(ydom(pt, pb), [0.4, n + 0.6], aref(ai, "x")), 4, 17.5)
    ya.update(tickvals=list(range(n, 0, -1)), ticktext=sets)
    layout[aname(ai, "x")], layout[aname(ai, "y")] = xa, ya
    fig.add_trace(go.Scatter(x=xs, y=list(range(n, 0, -1)), mode="markers", hoverinfo="skip",
                             xaxis=aref(ai, "x"), yaxis=aref(ai, "y"),
                             marker=dict(size=[ora_diam(s) for s in size], color=ratio, coloraxis="coloraxis",
                                         line=dict(width=0), opacity=1)))
    shapes.append(dict(type="line", xref=aref(ai, "x"), yref=aref(ai, "y") + " domain", x0=cut, x1=cut, y0=0, y1=1,
                       line=dict(color="black", width=1.5, dash="11px,8px")))
    strip_box(1055, 1684, st, pt, lab, 17.5)
    ai += 1

text(1055, 1413.4, "Over-representation gene set analysis", 25.4)
text(1371, 3133, "-log10(FDR)", 21.5, xanchor="center")
text(51, 2283, "Gene set", 21.5, xanchor="center", angle=-90)

layout["coloraxis"] = dict(
    colorscale="Plasma", cmin=0.0, cmax=0.404,
    colorbar=dict(x=px(1726), xanchor="left", y=py(2349), yanchor="top", len=232 / FH, lenmode="fraction",
                  thickness=45 * S, xpad=0, ypad=0, outlinewidth=0, tickvals=ratio_ticks,
                  ticktext=["%.1f" % v for v in ratio_ticks], ticks="inside", ticklen=7, tickcolor="white",
                  tickwidth=1.5, tickfont=dict(family=FONT, size=18, color="black")))

# ============================ CAMERA ============================
cam_panels = [
    ("FIBROSIS", (3247.0, 3287.0, 3563.5), cam_fibrosis_sets, cam_fibrosis_fdr, cam_fibrosis_dir, cam_fibrosis_size),
    ("GO", (3577.3, 3616.6, 3893.0), cam_go_sets, cam_go_fdr, cam_go_dir, cam_go_size),
    ("HALLMARK", (3908.0, 3947.3, 4224.0), cam_hallmark_sets, cam_hallmark_fdr, cam_hallmark_dir, cam_hallmark_size),
    ("REACTOME", (4238.4, 4277.7, 4554.0), cam_reactome_sets, cam_reactome_fdr, cam_reactome_dir, cam_reactome_size),
    ("WP", (4569.0, 4608.3, 4885.0), cam_wp_sets, cam_wp_fdr, cam_wp_dir, cam_wp_size),
]
for k, (lab, (st, pt, pb), sets, xs, dirs, size) in enumerate(cam_panels):
    n = len(sets)
    xa = base_axis(xdom(942.5, 1702.6), [-0.279, 6.662], aref(ai, "y"))
    if k == len(cam_panels) - 1:
        lined(xa, 5, 17)
        xa.update(tickvals=[0, 2, 4, 6], ticktext=["0", "2", "4", "6"])
    ya = lined(base_axis(ydom(pt, pb), [0.4, n + 0.6], aref(ai, "x")), 4, 17.5)
    ya.update(tickvals=list(range(n, 0, -1)), ticktext=sets)
    layout[aname(ai, "x")], layout[aname(ai, "y")] = xa, ya
    fig.add_trace(go.Scatter(x=xs, y=list(range(n, 0, -1)), mode="markers", hoverinfo="skip",
                             xaxis=aref(ai, "x"), yaxis=aref(ai, "y"),
                             marker=dict(size=[cam_diam(s) for s in size], opacity=1,
                                         color=[CAM_UP if d == "Up" else CAM_DOWN for d in dirs],
                                         line=dict(width=0))))
    shapes.append(dict(type="line", xref=aref(ai, "x"), yref=aref(ai, "y") + " domain", x0=cut, x1=cut, y0=0, y1=1,
                       line=dict(color="black", width=1.5, dash="11px,8px")))
    strip_box(942.5, 1702.6, st, pt, lab, 17.5)
    ai += 1

text(942.5, 3215.7, "Camera gene set analysis", 25.4)
text(1322, 4935, "-log10(FDR)", 21.5, xanchor="center")
text(51, 4084, "Gene set", 21.5, xanchor="center", angle=-90)

# ============================ LEGENDS (drawn on a full-page canvas axis) ============================
CV = ai
layout[aname(CV, "x")] = dict(domain=[0, 1], range=[0, FW], visible=False, fixedrange=True, anchor=aref(CV, "y"))
layout[aname(CV, "y")] = dict(domain=[0, 1], range=[FH, 0], visible=False, fixedrange=True, anchor=aref(CV, "x"))
lx, ly, ls, lc = [], [], [], []


def key(x, y, d, c):
    lx.append(x)
    ly.append(y)
    ls.append(d)
    lc.append(c)


# volcano legend
text(255, 1293, "FDR &lt; 0.05", 24)
for xk, xt, lab, col in [(460.5, 499, "Down", COL_DOWN), (601.4, 640, "Up", COL_UP), (709, 748, "NotSig", COL_NS)]:
    key(xk, 1293, 8.5, col)
    text(xt, 1293, lab, 19)
# group legend
text(1227, 1292, "Group", 23.5)
for xk, xt, lab, col in [(1353.6, 1391.5, "CF.IVA", COL_IVA), (1499, 1538.6, "CF.NO_MOD", COL_NOMOD)]:
    key(xk, 1292, 8.0, col)
    text(xt, 1292, lab, 18.5)
# ORA size legend
text(1726, 2001.6, "Set size", 21.5)
for yk, s in zip([2049.6, 2097.0, 2143.3, 2189.0, 2234.8], size_breaks_ora):
    key(1748, yk, ora_diam(s), "black")
    text(1785, yk, str(s), 18)
text(1726, 2325, "Gene ratio", 21.5)
# Camera legends
text(1744, 3919, "Set size", 21.5)
for yk, s in zip([3968.0, 4013.8, 4059.8], size_breaks_cam):
    key(1766, yk, cam_diam(s), "black")
    text(1803, yk, str(s), 18)
text(1744, 4149, "Direction", 21.5)
for yk, lab, col in [(4198, "Down", CAM_DOWN), (4244, "Up", CAM_UP)]:
    key(1766, yk, 11, col)
    text(1803, yk, lab, 18)

fig.add_trace(go.Scatter(x=lx, y=ly, mode="markers", hoverinfo="skip", xaxis=aref(CV, "x"), yaxis=aref(CV, "y"),
                         marker=dict(size=ls, color=lc, opacity=1, line=dict(width=0))))

layout["annotations"] = annotations
layout["shapes"] = shapes
fig.update_layout(**layout)
fig.write_html("out.html")
